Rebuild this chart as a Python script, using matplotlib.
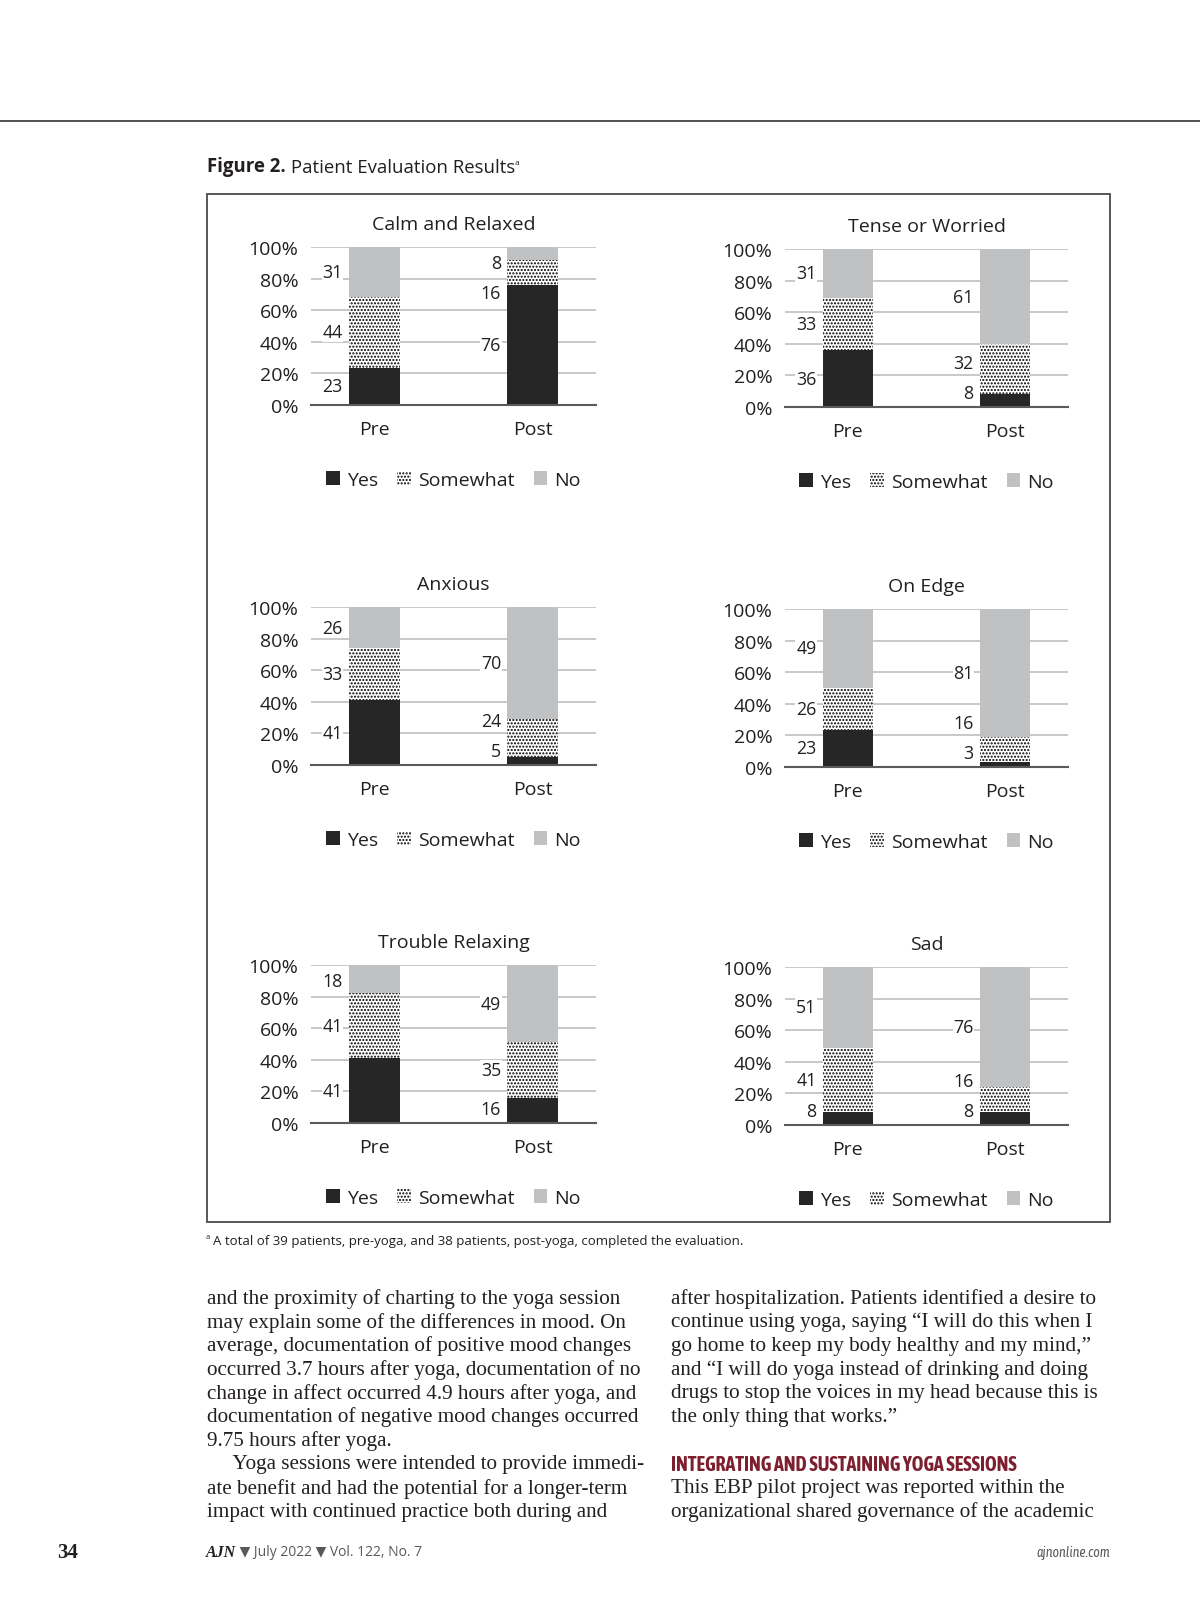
import numpy as np
import matplotlib.pyplot as plt
from matplotlib.patches import Patch, Rectangle

W, H = 1200, 1624

# chart data (percent of respondents)
titles = ['Calm and Relaxed', 'Tense or Worried', 'Anxious', 'On Edge', 'Trouble Relaxing', 'Sad']
categories = ['Pre', 'Post']
responses = ['Yes', 'Somewhat', 'No']
yes_pct = [[23, 76], [36, 8], [41, 5], [23, 3], [41, 16], [8, 8]]
somewhat_pct = [[44, 16], [33, 32], [33, 24], [26, 16], [41, 35], [41, 16]]
no_pct = [[31, 8], [31, 61], [26, 70], [49, 81], [18, 49], [51, 76]]
y_ticks = [0, 20, 40, 60, 80, 100]

left_text = [
    'and the proximity of charting to the yoga session',
    'may explain some of the differences in mood. On',
    'average, documentation of positive mood changes',
    'occurred 3.7 hours after yoga, documentation of no',
    'change in affect occurred 4.9 hours after yoga, and',
    'documentation of negative mood changes occurred',
    '9.75 hours after yoga.',
    '     Yoga sessions were intended to provide immedi-',
    'ate benefit and had the potential for a longer-term',
    'impact with continued practice both during and',
]
right_text = [
    'after hospitalization. Patients identified a desire to',
    'continue using yoga, saying \u201cI will do this when I',
    'go home to keep my body healthy and my mind,\u201d',
    'and \u201cI will do yoga instead of drinking and doing',
    'drugs to stop the voices in my head because this is',
    'the only thing that works.\u201d',
    '',
    '',
    'This EBP pilot project was reported within the',
    'organizational shared governance of the academic',
]
heading = 'INTEGRATING AND SUSTAINING YOGA SESSIONS'
footnote = 'A total of 39 patients, pre-yoga, and 38 patients, post-yoga, completed the evaluation.'

SANS = ['Open Sans', 'DejaVu Sans']
SERIF = ['Liberation Serif', 'DejaVu Serif']
NARROW = ['Asap Condensed', 'Encode Sans Condensed', 'DejaVu Sans']
INK = '#231f20'

FILL = ['#262626', 'white', '#bfc1c3']
HATCH = [None, '.....', None]
BAR_W = 0.32
GAP = 19

plt.rcParams['hatch.linewidth'] = 1.0
plt.rcParams['hatch.color'] = 'black'

# axes boxes in page pixels: (x0, x1, y_top, y_bottom)
boxes = [(311, 596, 248, 406), (785, 1068, 250, 408),
         (311, 596, 608, 766), (785, 1068, 610, 768),
         (311, 596, 966, 1124), (785, 1068, 968, 1126)]


def label_positions(seg):
    mid = np.cumsum(seg) - seg / 2
    pos = mid.copy()
    pos[-1] = min(pos[-1], 90)
    for i in range(len(pos) - 2, -1, -1):
        pos[i] = min(pos[i], pos[i + 1] - GAP)
    pos[0] = max(pos[0], 9)
    for i in range(1, len(pos)):
        pos[i] = max(pos[i], pos[i - 1] + GAP)
    return pos


def draw_panel(ax, title, yes, some, no):
    raw = np.array([yes, some, no])
    data = raw / raw.sum(axis=0) * 100
    x = np.arange(len(categories))
    bottom = np.zeros(len(categories))
    for i in range(len(responses)):
        ax.bar(x, data[i], BAR_W, bottom=bottom, color=FILL[i], hatch=HATCH[i],
               edgecolor='black', linewidth=0, zorder=3)
        bottom += data[i]
    for j in range(len(categories)):
        ys = label_positions(data[:, j])
        for i in range(len(responses)):
            ax.text(x[j] - BAR_W / 2 - 0.04, ys[i], str(raw[i, j]), ha='right', va='center',
                    fontsize=12.8, family=SANS, color=INK, zorder=5,
                    bbox=dict(facecolor='white', edgecolor='none', pad=0.5))

    ax.set_xlim(-0.4, 1.4)
    ax.set_ylim(0, 100)
    ax.set_xticks(x)
    ax.set_xticklabels(categories, fontsize=14, family=SANS, color=INK)
    ax.set_yticks(y_ticks)
    ax.set_yticklabels(['%d%%' % t for t in y_ticks], fontsize=14, family=SANS, color=INK)
    ax.tick_params(length=0)
    ax.tick_params(axis='y', pad=9)
    ax.tick_params(axis='x', pad=10.5)
    ax.yaxis.grid(True, color='#c4c4c4', lw=1.3, zorder=0)
    for s in ['top', 'right', 'left']:
        ax.spines[s].set_visible(False)
    ax.spines['bottom'].set_color('#5a5a5a')
    ax.spines['bottom'].set_linewidth(1.5)
    ax.spines['bottom'].set_zorder(4)
    ax.annotate(title, (0.5, 1), xycoords='axes fraction', xytext=(0, 23 * 0.72),
                textcoords='offset points', ha='center', va='center',
                fontsize=14, family=SANS, color=INK)

    handles = [Patch(facecolor=FILL[i], hatch=HATCH[i], edgecolor='black', linewidth=0)
               for i in range(len(responses))]
    ax.legend(handles, responses, loc='center', bbox_to_anchor=(0.5, -0.475), ncol=3,
              frameon=False, handlelength=0.7, handleheight=0.7, handletextpad=0.35,
              columnspacing=1.0, prop={'family': SANS, 'size': 14}, labelcolor=INK)


def main():
    fig = plt.figure(figsize=(W / 100, H / 100), dpi=100)
    page = fig.add_axes([0, 0, 1, 1])
    page.set_xlim(0, W)
    page.set_ylim(H, 0)
    page.axis('off')

    page.plot([0, W], [122, 122], color='#333333', lw=1.2)
    page.add_patch(Rectangle((207, 195), 1110 - 207, 1223 - 195, fill=False,
                             ec='#4a4a4a', lw=1.3))

    t1 = page.text(207, 177, 'Figure 2.', fontsize=13.4, weight='bold', family=SANS,
                   color=INK, va='bottom')
    t2 = page.annotate(' Patient Evaluation Results', xy=(1, 0), xycoords=t1, va='bottom',
                       fontsize=13.4, family=SANS, color=INK)
    page.annotate('a', xy=(1, 0.92), xycoords=t2, va='top', fontsize=6, family=SANS, color=INK)

    page.text(206, 1238, 'a', fontsize=5.5, family=SANS, color=INK, va='center')
    page.text(213, 1242, footnote, fontsize=9.5, family=SANS, color=INK, va='center')

    for k, box in enumerate(boxes):
        x0, x1, yt, yb = box
        ax = fig.add_axes([x0 / W, 1 - yb / H, (x1 - x0) / W, (yb - yt) / H])
        draw_panel(ax, titles[k], yes_pct[k], somewhat_pct[k], no_pct[k])

    for i, line in enumerate(left_text):
        page.text(207, 1299 + 23.7 * i, line, fontsize=15.2, family=SERIF, color=INK, va='center')
    for i, line in enumerate(right_text):
        page.text(671, 1299 + 23.7 * i, line, fontsize=15.2, family=SERIF, color=INK, va='center')
    page.text(671, 1299 + 23.7 * 7, heading, fontsize=14.3, weight='bold', family=NARROW,
              color='#7d1f2e', va='center')

    # footer
    page.text(57, 1553, '34', fontsize=15, weight='bold', family=SERIF, color=INK, va='center')
    f1 = page.text(206, 1553, 'AJN', fontsize=11.5, weight='bold', style='italic', family=SERIF,
                   color=INK, va='center')
    page.annotate(' \u25bc July 2022 \u25bc Vol. 122, No. 7', xy=(1, 0.5), xycoords=f1, va='center',
                  fontsize=10, family=SANS, color='#58595b')
    page.text(1110, 1553, 'ajnonline.com', fontsize=10, style='italic', family=NARROW,
              color='#58595b', va='center', ha='right')

    fig.savefig('out.png', dpi=100, facecolor='white')


if __name__ == '__main__':
    main()
